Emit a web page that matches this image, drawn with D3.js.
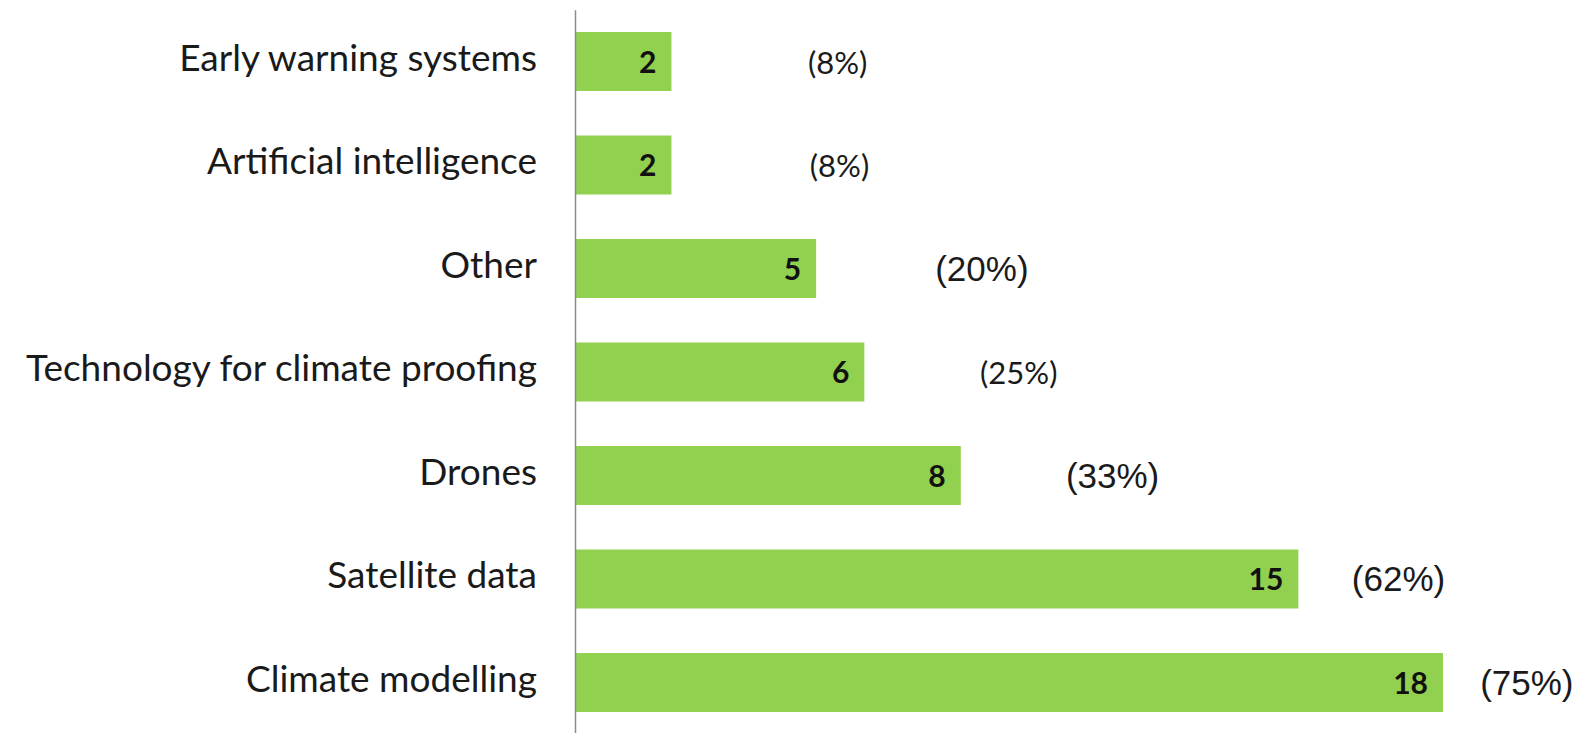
<!DOCTYPE html>
<html>
<head>
<meta charset="utf-8">
<script src="https://cdn.jsdelivr.net/npm/d3@7"></script>
<style>
  html, body { margin: 0; padding: 0; background: #fff; }
  svg { display: block; }
</style>
</head>
<body>
<svg id="chart" width="1592" height="733"></svg>
<script>
// Technologies used, number of respondents (and share of all respondents)
const categories = [
  "Early warning systems",
  "Artificial intelligence",
  "Other",
  "Technology for climate proofing",
  "Drones",
  "Satellite data",
  "Climate modelling"
];
const counts = [2, 2, 5, 6, 8, 15, 18];
const shareLabels = ["(8%)", "(8%)", "(20%)", "(25%)", "(33%)", "(62%)", "(75%)"];

// Where each share label starts, in value units along the x scale
const shareLabelAt = [4.83, 4.87, 7.47, 8.40, 10.18, 16.11, 18.77];
// Two of the share labels use a narrower face than the rest
const shareLabelNarrow = [true, true, false, true, false, false, false];

const svg = d3.select("#chart");

const x = d3.scaleLinear().domain([0, 18]).range([575, 1443]);
const y = d3.scaleBand()
  .domain(categories)
  .range([9.75, 734.25])
  .paddingInner(0.43)
  .paddingOuter(0.215);

const BAR = "#92D050";

// Bars
svg.append("g")
  .selectAll("rect")
  .data(categories)
  .join("rect")
  .attr("x", x(0))
  .attr("y", d => y(d))
  .attr("width", (d, i) => x(counts[i]) - x(0))
  .attr("height", y.bandwidth())
  .attr("fill", BAR);

// Category axis
const axis = svg.append("g")
  .attr("transform", `translate(${x(0)},0)`)
  .call(d3.axisLeft(y).tickSizeInner(0).tickSizeOuter(0).tickPadding(38));
axis.select(".domain").attr("stroke", "#8c8c8c").attr("stroke-width", 1.5);
axis.selectAll(".tick text")
  .attr("dy", null)
  .attr("y", 9)
  .attr("fill", "#1a1a1a")
  .style("font-family", "Lato, sans-serif")
  .style("font-size", "37px");

// Counts inside the bar ends
svg.append("g")
  .selectAll("text")
  .data(categories)
  .join("text")
  .attr("x", (d, i) => x(counts[i]) - 15)
  .attr("y", d => y(d) + y.bandwidth() / 2 + 11)
  .attr("text-anchor", "end")
  .attr("fill", "#111")
  .style("font-family", "Lato, sans-serif")
  .style("font-weight", "700")
  .style("font-size", "30px")
  .text((d, i) => counts[i]);

// Share of respondents to the right of each bar
svg.append("g")
  .selectAll("text")
  .data(categories)
  .join("text")
  .attr("x", (d, i) => x(shareLabelAt[i]))
  .attr("y", d => y(d) + y.bandwidth() / 2 + 12)
  .attr("fill", "#1a1a1a")
  .style("font-family", (d, i) => shareLabelNarrow[i] ? "Lato, sans-serif" : "'Liberation Sans', Arial, sans-serif")
  .style("font-size", (d, i) => shareLabelNarrow[i] ? "31px" : "35px")
  .text((d, i) => shareLabels[i]);
</script>
</body>
</html>
